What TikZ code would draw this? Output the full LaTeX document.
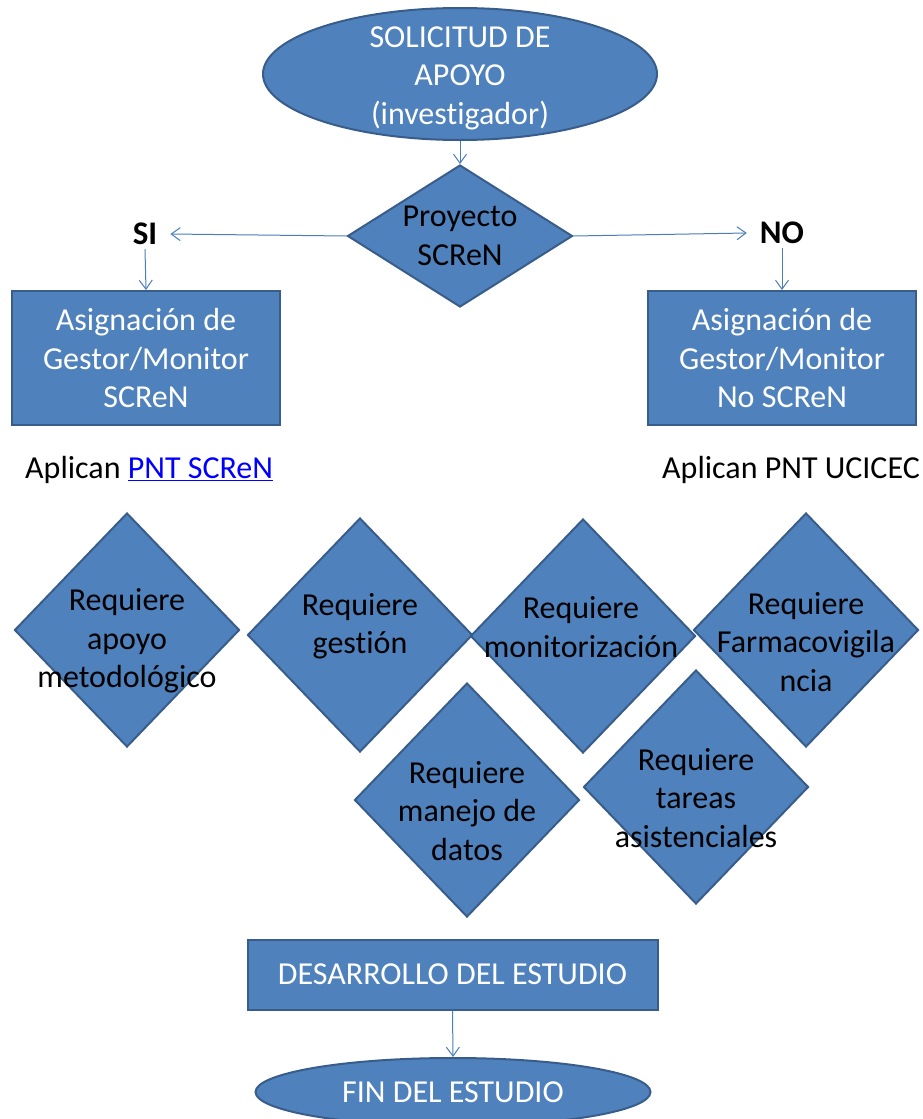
\documentclass[tikz,border=0pt]{standalone}
\usepackage{fontspec}
\setmainfont[Ligatures={NoCommon,NoRequired,NoContextual,NoRare}]{Carlito}
\usetikzlibrary{shapes.geometric,arrows.meta}
\definecolor{boxfill}{HTML}{4F81BD}
\definecolor{boxline}{HTML}{385D8A}
\definecolor{arrowcol}{HTML}{4A7EBB}
\definecolor{linkblue}{HTML}{0000FF}
\begin{document}
\begin{tikzpicture}[x=1pt,y=-1pt,
  font=\fontsize{32}{38.5}\selectfont,
  shapebase/.style={fill=boxfill,draw=boxline,line width=2pt,inner sep=0pt},
  oval/.style={shapebase,ellipse},
  rectbox/.style={shapebase,rectangle},
  choice/.style={shapebase,diamond,minimum width=225pt,minimum height=234pt},
  wtext/.style={text=white,align=center},
  btext/.style={text=black,align=center},
  conn/.style={draw=arrowcol,line width=1pt,-{Straight Barb[length=9pt,width=13pt]}}
]
\useasboundingbox (0,0) rectangle (923,1119);

% top ellipse
\node[oval,minimum width=394pt,minimum height=132pt] (start) at (460,74) {};
\node[wtext] (startT) at (460,78) {SOLICITUD DE\\APOYO\\(investigador)};

% decision
\node[shapebase,diamond,minimum width=225pt,minimum height=142pt] (proj) at (460,236) {};
\node[btext] (projT) at (proj.center) {Proyecto\\SCReN};

% SI / NO
\node[inner xsep=13pt,inner ysep=4pt,font=\fontsize{33}{38.5}\selectfont\bfseries] (si) at (145,234) {SI};
\node[inner xsep=13pt,inner ysep=4pt,font=\fontsize{33}{38.5}\selectfont\bfseries] (no) at (782,233) {NO};

% boxes
\node[rectbox,minimum width=268pt,minimum height=134pt] (boxL) at (146,358) {};
\node[wtext] (boxLT) at (boxL.center) {Asignación de\\Gestor/Monitor\\SCReN};
\node[rectbox,minimum width=268pt,minimum height=134pt] (boxR) at (782,358) {};
\node[wtext] (boxRT) at (boxR.center) {Asignación de\\Gestor/Monitor\\No SCReN};

% aplican
\node[anchor=west,inner sep=0pt] (apL) at (25,470) {Aplican \textcolor{linkblue}{\underline{PNT SCReN}}};
\node[anchor=west,inner sep=0pt] (apR) at (662,470) {Aplican PNT UCICEC};

% requirement diamonds
\node[choice] (d1) at (127,630) {};
\node[btext] (d1T) at (127,641) {Requiere\\apoyo\\metodológico};
\node[choice] (d2) at (360,635) {};
\node[btext] (d2T) at (360,626) {Requiere\\gestión};
\node[choice] (d3) at (583,636) {};
\node[btext] (d3T) at (581,627) {Requiere\\monitorización};
\node[choice] (d4) at (806,630) {};
\node[btext] (d4T) at (806,642) {Requiere\\Farmacovigila\\ncia};
\node[choice] (d5) at (467,800) {};
\node[btext] (d5T) at (467,811) {Requiere\\manejo de\\datos};
\node[choice] (d6) at (696,787) {};
\node[btext] (d6T) at (696,798) {Requiere\\tareas\\asistenciales};

% bottom
\node[rectbox,minimum width=410pt,minimum height=70pt] (des) at (452.5,974.5) {};
\node[wtext] (desT) at (des.center) {DESARROLLO DEL ESTUDIO};
\node[oval,minimum width=395pt,minimum height=68pt] (fin) at (453,1092) {};
\node[wtext] (finT) at (fin.center) {FIN DEL ESTUDIO};

% connectors
\draw[conn] (start.south) -- (proj.north);
\draw[conn] (proj.west) -- (si.east);
\draw[conn] (proj.east) -- (no.west);
\draw[conn] (si.south) -- (boxL.north);
\draw[conn] (no.south) -- (boxR.north);
\draw[conn] (des.south) -- (fin.north);
\end{tikzpicture}
\end{document}
